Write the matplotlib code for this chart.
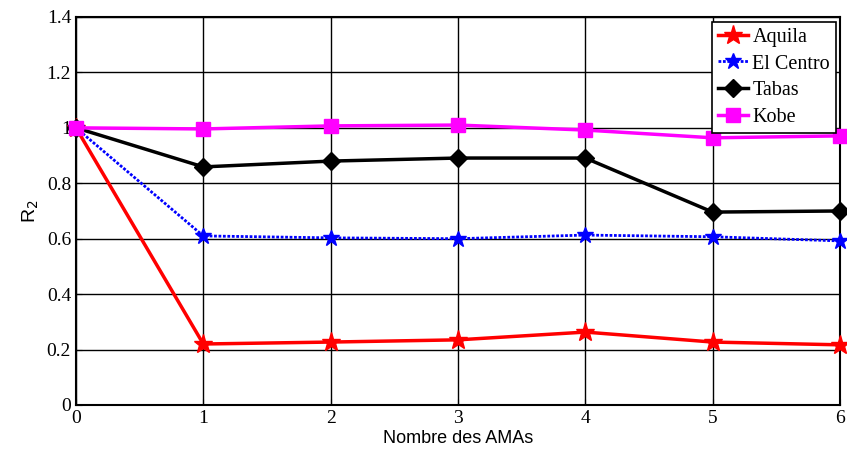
import matplotlib
matplotlib.use("Agg")
import matplotlib.pyplot as plt

x = [0, 1, 2, 3, 4, 5, 6]
aquila = [1.0, 0.22, 0.227, 0.235, 0.263, 0.227, 0.217]
elcentro = [1.0, 0.61, 0.603, 0.60, 0.613, 0.607, 0.592]
tabas = [1.0, 0.859, 0.88, 0.891, 0.891, 0.696, 0.70]
kobe = [1.0, 0.996, 1.007, 1.01, 0.992, 0.964, 0.971]
yticks = [0, 0.2, 0.4, 0.6, 0.8, 1, 1.2, 1.4]
ytick_labels = ["0", "0.2", "0.4", "0.6", "0.8", "1", "1.2", "1.4"]

fig = plt.figure(figsize=(8.47, 4.54), dpi=100)
ax = fig.add_axes([0.0897, 0.108, 0.902, 0.8546])

ax.plot(x, aquila, color="red", lw=2.5, marker="*", ms=14, label="Aquila", clip_on=False, zorder=3)
ax.plot(x, elcentro, color="blue", lw=2.0, ls=(0, (1, 0.6)), marker="*", ms=12, label="El Centro", clip_on=False, zorder=3)
ax.plot(x, tabas, color="black", lw=2.5, marker="D", ms=9, label="Tabas", clip_on=False, zorder=3)
ax.plot(x, kobe, color="magenta", lw=2.5, marker="s", ms=10, label="Kobe", clip_on=False, zorder=3)

ax.set_xlim(0, 6)
ax.set_ylim(0, 1.4)
ax.set_xticks(x)
ax.set_yticks(yticks)
ax.set_yticklabels(ytick_labels)
ax.grid(True, color="black", lw=1.0)
ax.tick_params(direction="in", length=4, labelsize=14)
for lab in ax.get_xticklabels() + ax.get_yticklabels():
    lab.set_fontfamily("Liberation Serif")
for s in ax.spines.values():
    s.set_linewidth(1.5)

ax.set_xlabel("Nombre des AMAs", fontsize=13, family="Liberation Sans", labelpad=2)
ax.set_ylabel("R$_2$", fontsize=14, family="Liberation Sans", labelpad=4)

leg = ax.legend(loc="upper right", bbox_to_anchor=(0.995, 0.988), prop={"family": "Liberation Serif", "size": 14.5},
                fancybox=False, edgecolor="black", framealpha=1, handlelength=1.5, handletextpad=0.2,
                borderpad=0.3, labelspacing=0.38, borderaxespad=0)
leg.get_frame().set_linewidth(1.2)
leg.set_zorder(5)

fig.savefig("out.png", dpi=100)
